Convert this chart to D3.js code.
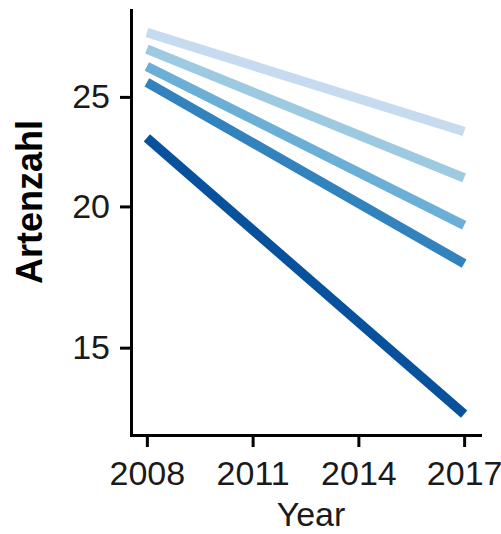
<!DOCTYPE html>
<html>
<head>
<meta charset="utf-8">
<script src="https://cdn.jsdelivr.net/npm/d3@7"></script>
<style>
  html, body { margin: 0; padding: 0; background: #fff; }
  svg { display: block; }
  text { font-family: "Liberation Sans", Arial, Helvetica, sans-serif; }
</style>
</head>
<body>
<svg id="chart" width="501" height="534"></svg>
<script>
// Fitted species richness per group, at the start and end of the survey period
const years = [2008, 2017];
const groups = ["g1", "g2", "g3", "g4", "g5"];
const values = [
  [28.5, 23.3],
  [27.55, 21.2],
  [26.6, 19.25],
  [25.75, 17.8],
  [23.0, 13.1]
];
const colors = ["#c6dbef", "#9ecae1", "#6baed6", "#3182bd", "#08519c"];
const xTicks = [2008, 2011, 2014, 2017];
const yTicks = [15, 20, 25];

const svg = d3.select("#chart");

const x = d3.scaleLinear().domain([2007.55, 2017.45]).range([131, 480]);
const y = d3.scaleLog().domain([12.555, 29.84]).range([435, 10]);

const line = d3.line()
  .x(d => x(d[0]))
  .y(d => y(d[1]));

svg.append("g")
  .selectAll("path")
  .data(groups)
  .join("path")
  .attr("d", (g, i) => line(years.map((yr, j) => [yr, values[i][j]])))
  .attr("fill", "none")
  .attr("stroke", (g, i) => colors[i])
  .attr("stroke-width", 9.5)
  .attr("stroke-linecap", "butt");

// Axes
const yAxis = svg.append("g")
  .attr("transform", "translate(131,0)")
  .call(d3.axisLeft(y).tickValues(yTicks).tickFormat(d3.format("d"))
    .tickSize(11).tickSizeOuter(0).tickPadding(10));

const xAxis = svg.append("g")
  .attr("transform", "translate(0,435)")
  .call(d3.axisBottom(x).tickValues(xTicks).tickFormat(d3.format("d"))
    .tickSize(12).tickSizeOuter(0).tickPadding(14));

[yAxis, xAxis].forEach(ax => {
  ax.select(".domain").attr("stroke", "#000").attr("stroke-width", 3)
    .attr("stroke-linecap", "square");
  ax.selectAll(".tick line").attr("stroke", "#000").attr("stroke-width", 3);
  ax.selectAll(".tick text")
    .attr("fill", "#1a1a1a")
    .style("font-size", "34px")
    .style("font-family", "'Liberation Sans', Arial, sans-serif");
});

// Axis titles
svg.append("text")
  .attr("x", 311)
  .attr("y", 526)
  .attr("text-anchor", "middle")
  .attr("fill", "#1a1a1a")
  .style("font-size", "34px")
  .text("Year");

svg.append("text")
  .attr("transform", "translate(42,202) rotate(-90)")
  .attr("text-anchor", "middle")
  .attr("fill", "#000")
  .style("font-size", "36px")
  .style("font-weight", "bold")
  .text("Artenzahl");
</script>
</body>
</html>
